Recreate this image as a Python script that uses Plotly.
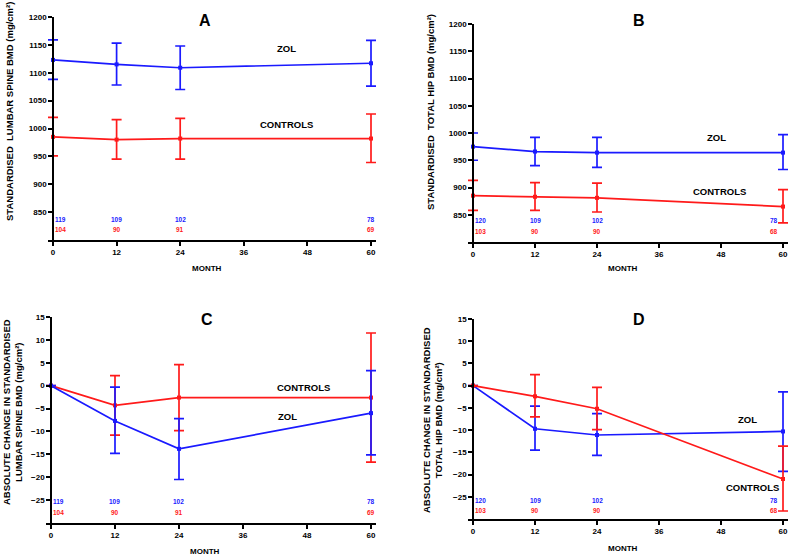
import plotly.graph_objects as go

# ── Data ─────────────────────────────────────────────────────────────────────
months = [0, 12, 24, 60]

# Panel A: standardised lumbar spine BMD
a_zol = [1123, 1115, 1109, 1117]
a_zol_hi = [1159, 1153, 1148, 1158]
a_zol_lo = [1088, 1078, 1070, 1076]
a_ctl = [985, 980, 982, 982]
a_ctl_hi = [1020, 1016, 1018, 1026]
a_ctl_lo = [951, 945, 945, 939]

# Panel B: standardised total hip BMD
b_zol = [975, 966, 964, 964]
b_zol_hi = [1000, 992, 992, 997]
b_zol_lo = [950, 940, 937, 933]
b_ctl = [885, 883, 881, 865]
b_ctl_hi = [913, 909, 908, 896]
b_ctl_lo = [858, 858, 855, 835]

# Panel C: absolute change, lumbar spine
c_zol = [0, -7.7, -13.8, -6.0]
c_zol_hi = [0, -0.3, -7.2, 3.3]
c_zol_lo = [0, -14.8, -20.5, -15.1]
c_ctl = [0, -4.3, -2.6, -2.6]
c_ctl_hi = [0, 2.2, 4.6, 11.5]
c_ctl_lo = [0, -10.8, -9.8, -16.7]

# Panel D: absolute change, total hip
d_zol = [0, -9.7, -11.1, -10.3]
d_zol_hi = [0, -4.6, -6.3, -1.4]
d_zol_lo = [0, -14.5, -15.7, -19.3]
d_ctl = [0, -2.4, -5.2, -21.0]
d_ctl_hi = [0, 2.5, -0.4, -13.6]
d_ctl_lo = [0, -7.0, -9.9, -28.2]

# patient numbers
n_spine_zol = [119, 109, 102, 78]
n_spine_ctl = [104, 90, 91, 69]
n_hip_zol = [120, 109, 102, 78]
n_hip_ctl = [103, 90, 90, 68]

BLUE = "#1a1aff"
RED = "#ff1a1a"
FONT = "Liberation Sans, Arial, sans-serif"

W, H = 792, 557


def px_x(p):
    return p / W


def px_y(p):
    return 1 - p / H


fig = go.Figure()


def add_series(idx, y, hi, lo, color):
    ax = "" if idx == 1 else str(idx)
    fig.add_trace(go.Scatter(
        x=months, y=y, xaxis="x" + ax, yaxis="y" + ax,
        mode="lines+markers",
        line=dict(color=color, width=1.7),
        marker=dict(color=color, size=4, symbol="square"),
        error_y=dict(
            type="data", symmetric=False,
            array=[h - v for h, v in zip(hi, y)],
            arrayminus=[v - l for v, l in zip(y, lo)],
            color=color, thickness=1.7, width=5,
        ),
        cliponaxis=False,
        showlegend=False,
        hoverinfo="x+y",
    ))


add_series(1, a_zol, a_zol_hi, a_zol_lo, BLUE)
add_series(1, a_ctl, a_ctl_hi, a_ctl_lo, RED)
add_series(2, b_zol, b_zol_hi, b_zol_lo, BLUE)
add_series(2, b_ctl, b_ctl_hi, b_ctl_lo, RED)
add_series(3, c_ctl, c_ctl_hi, c_ctl_lo, RED)
add_series(3, c_zol, c_zol_hi, c_zol_lo, BLUE)
add_series(4, d_zol, d_zol_hi, d_zol_lo, BLUE)
add_series(4, d_ctl, d_ctl_hi, d_ctl_lo, RED)

tick_font = dict(family=FONT, size=8, color="black", weight="bold")


def xax(left, right, anchor):
    # month 0 sits at `left` px and month 60 at `right` px; one month of
    # padding each side keeps the error-bar caps at the ends unclipped
    pad = (right - left) / 60
    return dict(
        domain=[px_x(left - pad), px_x(right + pad)], range=[-1, 61],
        anchor=anchor, automargin=False,
        tickvals=[0, 12, 24, 36, 48, 60],
        ticks="outside", ticklen=4, tickwidth=1.5, tickcolor="black",
        showline=True, linecolor="black", linewidth=1.5,
        showgrid=False, zeroline=False, tickfont=tick_font,
    )


def yax(bottom, top, rng, vals, pos):
    return dict(
        domain=[px_y(bottom), px_y(top)], range=rng, tickvals=vals,
        anchor="free", position=px_x(pos), automargin=False,
        ticks="outside", ticklen=4, tickwidth=1.5, tickcolor="black",
        showline=True, linecolor="black", linewidth=1.5,
        showgrid=False, zeroline=False, tickfont=tick_font,
    )


abs_vals = [850, 900, 950, 1000, 1050, 1100, 1150, 1200]
chg_vals = [-25, -20, -15, -10, -5, 0, 5, 10, 15]

fig.update_layout(
    width=W, height=H,
    margin=dict(l=0, r=0, t=0, b=0, autoexpand=False),
    plot_bgcolor="white", paper_bgcolor="white",
    font=dict(family=FONT, color="black"),
    xaxis=xax(53, 371, "y"),
    yaxis=yax(240, 17, [800, 1200], abs_vals, 53),
    xaxis2=xax(473, 783, "y2"),
    yaxis2=yax(242, 24, [800, 1200], abs_vals, 473),
    xaxis3=xax(51, 371, "y3"),
    yaxis3=yax(523, 317, [-30, 15], chg_vals, 51),
    xaxis4=xax(473, 783, "y4"),
    yaxis4=yax(519, 319, [-30, 15], chg_vals, 473),
)

ann = []


def label(text, x, y, size, color="black", xref="paper", yref="paper",
          xanchor="center", angle=0, xshift=0):
    ann.append(dict(
        text=text, x=x, y=y, xref=xref, yref=yref, showarrow=False,
        xanchor=xanchor, yanchor="middle", textangle=angle, xshift=xshift,
        font=dict(family=FONT, size=size, color=color, weight="bold"),
    ))


# panel letters
label("A", px_x(205), px_y(20), 16)
label("B", px_x(639), px_y(20), 16)
label("C", px_x(207), px_y(319), 16)
label("D", px_x(639), px_y(319), 16)

# x titles
label("MONTH", px_x(207), px_y(268), 8)
label("MONTH", px_x(623), px_y(268), 8)
label("MONTH", px_x(205), px_y(551), 8)
label("MONTH", px_x(623), px_y(548), 8)

# y titles
label("STANDARDISED  LUMBAR SPINE BMD (mg/cm²)", px_x(9), px_y(112), 9.5, angle=-90)
label("STANDARDISED  TOTAL HIP BMD (mg/cm²)", px_x(430), px_y(112), 9.5, angle=-90)
label("ABSOLUTE CHANGE IN STANDARDISED<br>LUMBAR SPINE BMD (mg/cm²)", px_x(12), px_y(412), 9.5, angle=-90)
label("ABSOLUTE CHANGE IN STANDARDISED<br>TOTAL HIP BMD (mg/cm²)", px_x(432), px_y(420), 9.5, angle=-90)

# series labels (data coordinates)
label("ZOL", 44, 1143, 9.5, xref="x", yref="y")
label("CONTROLS", 44, 1008, 9.5, xref="x", yref="y")
label("ZOL", 47.2, 991, 9.5, xref="x2", yref="y2")
label("CONTROLS", 47.8, 892, 9.5, xref="x2", yref="y2")
label("CONTROLS", 47.3, -0.3, 9.5, xref="x3", yref="y3")
label("ZOL", 44.3, -6.8, 9.5, xref="x3", yref="y3")
label("ZOL", 53.2, -7.7, 9.5, xref="x4", yref="y4")
label("CONTROLS", 54, -22.8, 9.5, xref="x4", yref="y4")


# patient counts
def counts(ax, zol_n, ctl_n, y_zol, y_ctl, last_right=False):
    for m, nz, nc in zip(months, zol_n, ctl_n):
        anc, shift = "center", 0
        if m == 0:
            anc = "left"
        elif m == 60 and last_right:
            anc, shift = "right", -3
        label(str(nz), m, y_zol, 6.5, BLUE, "x" + ax, "y" + ax, anc, xshift=shift)
        label(str(nc), m, y_ctl, 6.5, RED, "x" + ax, "y" + ax, anc, xshift=shift)


counts("", n_spine_zol, n_spine_ctl, 837, 819)
counts("2", n_hip_zol, n_hip_ctl, 839, 820, last_right=True)
counts("3", n_spine_zol, n_spine_ctl, -25.4, -27.8)
counts("4", n_hip_zol, n_hip_ctl, -25.8, -28.0, last_right=True)

fig.update_layout(annotations=ann)

# the page body has a default 8px margin; drop it so the figure sits at 0,0
fig.write_html(
    "out.html",
    config={"displayModeBar": False},
    post_script="document.body.style.margin='0';",
)
